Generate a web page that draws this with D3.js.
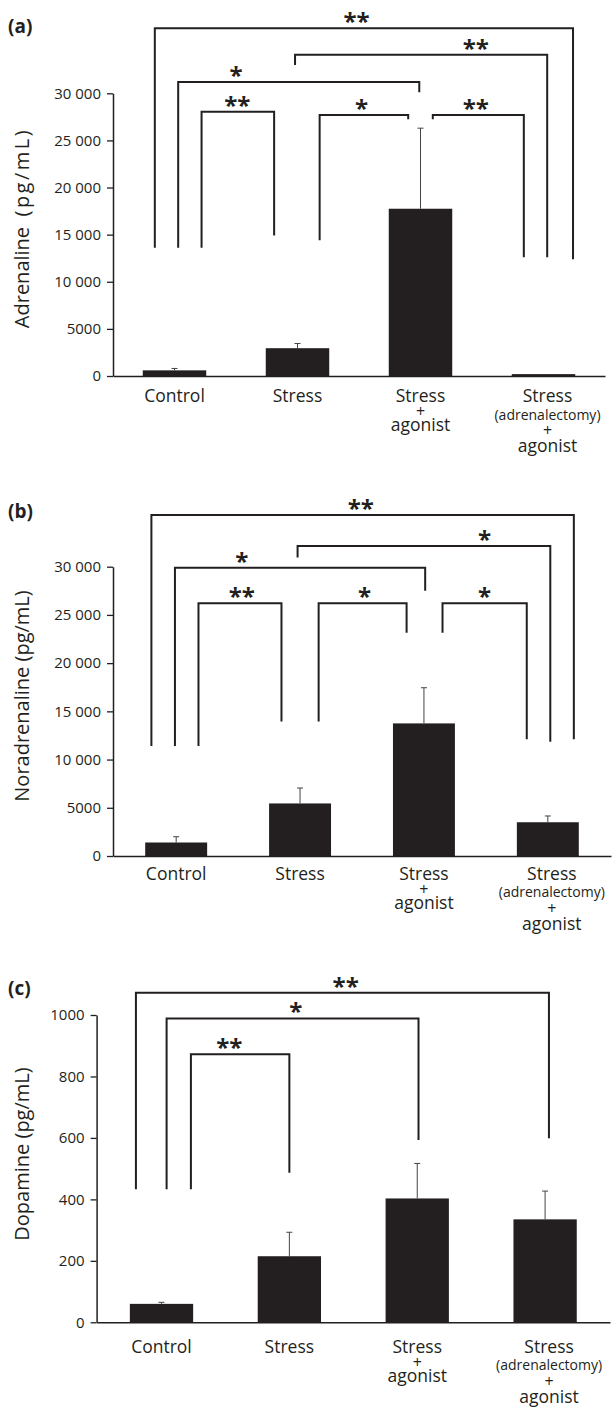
<!DOCTYPE html>
<html>
<head>
<meta charset="utf-8">
<script src="https://cdn.jsdelivr.net/npm/d3@7"></script>
<style>
  body { margin: 0; background: #fff; }
  text { font-family: "Open Sans", sans-serif; fill: #231f20; }
</style>
</head>
<body>
<div id="chart"></div>
<script>
var svgWidth = 615;
var svgHeight = 1410;

// categories, label lines under the x axis
var categories = ["Control", "Stress", "Stress + agonist", "Stress (adrenalectomy) + agonist"];
var categoryLines = [["Control"], ["Stress"], ["Stress", "+", "agonist"], ["Stress", "(adrenalectomy)", "+", "agonist"]];

// mean values and (upper) error bars
var adrenalineMean = [600, 2950, 17750, 200];
var adrenalineErr = [200, 500, 8550, 0];
var noradrenalineMean = [1400, 5450, 13750, 3500];
var noradrenalineErr = [600, 1600, 3700, 650];
var dopamineMean = [60, 215, 403, 335];
var dopamineErr = [5, 78, 114, 92];

// tick values and labels
var ticks30k = [0, 5000, 10000, 15000, 20000, 25000, 30000];
var tickLabels30k = ["0", "5000", "10 000", "15 000", "20 000", "25 000", "30 000"];
var ticks1000 = [0, 200, 400, 600, 800, 1000];
var tickLabels1000 = ["0", "200", "400", "600", "800", "1000"];

// significance brackets: x in category index units, heights in data units
// [x1, x2, top, leftEnd, rightEnd, starX, stars]
var adrenalineBrackets = [
  [-0.16, 3.24, 36900, 13600, 12400, 1.48, "**"],
  [0.98, 3.03, 34100, 33000, 12600, 2.45, "**"],
  [0.03, 1.99, 31200, 13600, 30100, 0.50, "*"],
  [0.22, 0.81, 28050, 13600, 14900, 0.51, "**"],
  [1.18, 1.90, 27700, 14400, 27250, 1.52, "*"],
  [2.10, 2.84, 27700, 27250, 12600, 2.45, "**"]
];
var noradrenalineBrackets = [
  [-0.20, 3.21, 35350, 11400, 12100, 1.49, "**"],
  [0.98, 3.02, 32150, 30950, 11850, 2.49, "*"],
  [-0.01, 2.01, 29900, 11400, 27500, 0.53, "*"],
  [0.18, 0.85, 26200, 11400, 13950, 0.53, "**"],
  [1.15, 1.86, 26200, 13950, 23150, 1.52, "*"],
  [2.15, 2.83, 26200, 23150, 12100, 2.49, "*"]
];
var dopamineBrackets = [
  [-0.20, 3.03, 1072, 433, 599, 1.44, "**"],
  [0.04, 2.01, 989, 433, 593, 1.05, "*"],
  [0.23, 1.00, 872, 433, 487, 0.53, "**"]
];

var panels = [
  { letter: "(a)", title: "Adrenaline", unit: "(pg/mL)", gap: "\u00a0\u00a0", unitSpacing: 2.5,
    mean: adrenalineMean, err: adrenalineErr,
    ticks: ticks30k, tickLabels: tickLabels30k, max: 30000, brackets: adrenalineBrackets,
    y0: 376, y1: 93.3, x0: 113, x1: 605, inner: 0.484, outer: 0.242,
    letterY: 33, titleY: 228, labelDy: 26 },
  { letter: "(b)", title: "Noradrenaline", unit: "(pg/mL)", gap: "\u00a0", unitSpacing: 0,
    mean: noradrenalineMean, err: noradrenalineErr,
    ticks: ticks30k, tickLabels: tickLabels30k, max: 30000, brackets: noradrenalineBrackets,
    y0: 856, y1: 566.7, x0: 113, x1: 611, inner: 0.5, outer: 0.26,
    letterY: 518, titleY: 696, labelDy: 23.5 },
  { letter: "(c)", title: "Dopamine", unit: "(pg/mL)", gap: "\u00a0", unitSpacing: 0,
    mean: dopamineMean, err: dopamineErr,
    ticks: ticks1000, tickLabels: tickLabels1000, max: 1000, brackets: dopamineBrackets,
    y0: 1322.3, y1: 1015, x0: 96.6, x1: 610, inner: 0.505, outer: 0.26,
    letterY: 995, titleY: 1154, labelDy: 30.5 }
];

var svg = d3.select("#chart")
  .append("svg")
  .attr("width", svgWidth)
  .attr("height", svgHeight);

panels.forEach(function(p) {
  var g = svg.append("g");

  var xBand = d3.scaleBand()
    .domain(categories)
    .range([p.x0, p.x1])
    .paddingInner(p.inner)
    .paddingOuter(p.outer);

  var yLinearScale = d3.scaleLinear()
    .domain([0, p.max])
    .range([p.y0, p.y1]);

  // category index -> bar centre
  var xIndex = d3.scaleLinear()
    .domain([0, categories.length - 1])
    .range([xBand(categories[0]) + xBand.bandwidth() / 2,
            xBand(categories[categories.length - 1]) + xBand.bandwidth() / 2]);

  // bars
  g.selectAll("rect.bar")
    .data(p.mean)
    .enter()
    .append("rect")
    .attr("class", "bar")
    .attr("x", (d, i) => xBand(categories[i]))
    .attr("y", d => yLinearScale(d))
    .attr("width", xBand.bandwidth())
    .attr("height", d => p.y0 - yLinearScale(d))
    .attr("fill", "#231f20");

  // error bars (upper only)
  var errData = p.mean.map((m, i) => ({ i: i, m: m, e: p.err[i] })).filter(d => d.e > 0);
  var errG = g.selectAll("g.err")
    .data(errData)
    .enter()
    .append("g")
    .attr("class", "err")
    .attr("stroke", "#444")
    .attr("stroke-width", 1);
  errG.append("line")
    .attr("x1", d => xIndex(d.i))
    .attr("x2", d => xIndex(d.i))
    .attr("y1", d => yLinearScale(d.m))
    .attr("y2", d => yLinearScale(d.m + d.e));
  errG.append("line")
    .attr("x1", d => xIndex(d.i) - 3)
    .attr("x2", d => xIndex(d.i) + 3)
    .attr("y1", d => yLinearScale(d.m + d.e))
    .attr("y2", d => yLinearScale(d.m + d.e));

  // y axis
  var leftAxis = d3.axisLeft(yLinearScale)
    .tickValues(p.ticks)
    .tickFormat((d, i) => p.tickLabels[i])
    .tickSize(6)
    .tickSizeOuter(0)
    .tickPadding(6);
  var yAxis = g.append("g")
    .attr("transform", `translate(${p.x0}, 0)`)
    .call(leftAxis);
  yAxis.select(".domain").attr("stroke", "#231f20").attr("stroke-width", 1.5);
  yAxis.selectAll(".tick line").attr("stroke", "#231f20").attr("stroke-width", 1.3);
  yAxis.selectAll(".tick text")
    .style("font-family", "'Open Sans', sans-serif")
    .style("font-size", "15px")
    .attr("fill", "#231f20");

  // x axis
  var bottomAxis = d3.axisBottom(xBand).tickSize(0).tickSizeOuter(0);
  var xAxis = g.append("g")
    .attr("transform", `translate(0, ${p.y0})`)
    .call(bottomAxis);
  xAxis.select(".domain").attr("stroke", "#231f20").attr("stroke-width", 1.5);
  xAxis.selectAll(".tick text").remove();

  // multi-line category labels
  var lineOffsets = { 1: [0], 3: [0, 15, 29], 4: [0, 17.5, 34, 50] };
  categories.forEach(function(c, i) {
    var lines = categoryLines[i];
    var offs = lineOffsets[lines.length];
    var cx = xIndex(i) + (lines.length === 4 ? 4 : 0);
    var t = g.append("text")
      .attr("text-anchor", "middle")
      .attr("x", cx)
      .attr("y", p.y0 + p.labelDy);
    lines.forEach(function(s, k) {
      t.append("tspan")
        .attr("x", cx)
        .attr("y", p.y0 + p.labelDy + offs[k])
        .style("font-size", s.charAt(0) === "(" ? "14px" : (s === "+" ? "16px" : "17.5px"))
        .text(s);
    });
  });

  // brackets
  var br = g.selectAll("g.bracket")
    .data(p.brackets)
    .enter()
    .append("g")
    .attr("class", "bracket");
  br.append("path")
    .attr("fill", "none")
    .attr("stroke", "#231f20")
    .attr("stroke-width", 2)
    .attr("d", d => `M${xIndex(d[0])},${yLinearScale(d[3])}V${yLinearScale(d[2])}H${xIndex(d[1])}V${yLinearScale(d[4])}`);
  br.append("text")
    .attr("x", d => xIndex(d[5]))
    .attr("y", d => yLinearScale(d[2]) + 2)
    .attr("text-anchor", "middle")
    .style("font-size", "24px")
    .style("font-weight", "bold")
    .text(d => d[6]);

  // panel letter
  g.append("text")
    .attr("x", 8)
    .attr("y", p.letterY)
    .style("font-size", "19px")
    .style("font-weight", "bold")
    .text(p.letter);

  // y axis title
  var title = g.append("text")
    .attr("transform", `translate(21, ${p.titleY}) rotate(-90)`)
    .attr("text-anchor", "middle")
    .attr("dominant-baseline", "central")
    .style("font-size", "20px");
  title.append("tspan").text(p.title + p.gap);
  title.append("tspan")
    .style("letter-spacing", p.unitSpacing + "px")
    .text(p.unit);
});
</script>
</body>
</html>
